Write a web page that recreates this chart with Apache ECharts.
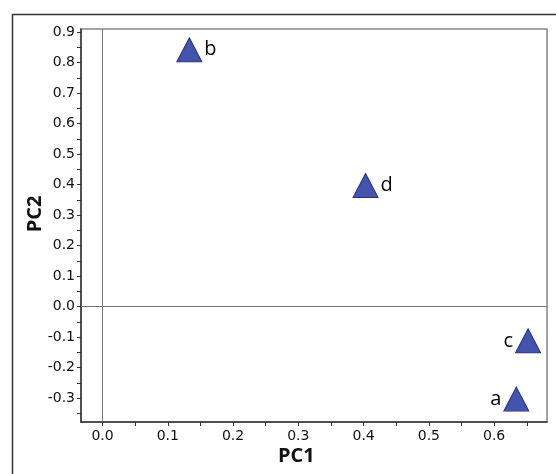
<!DOCTYPE html>
<html>
<head>
<meta charset="utf-8">
<script src="https://cdn.jsdelivr.net/npm/echarts@6/dist/echarts.min.js"></script>
<style>html,body{margin:0;padding:0;background:#fff}#c{width:556px;height:474px}</style>
</head>
<body>
<div id="c"></div>
<script>
// Data
const names = ['b', 'd', 'c', 'a'];
const pc1 = [0.133, 0.403, 0.652, 0.634];
const pc2 = [0.842, 0.397, -0.112, -0.303];
const xTickLabels = [0.0, 0.1, 0.2, 0.3, 0.4, 0.5, 0.6];
const yTickLabels = [-0.3, -0.2, -0.1, 0.0, 0.1, 0.2, 0.3, 0.4, 0.5, 0.6, 0.7, 0.8, 0.9];
const xTicks = [0.0, 0.05, 0.1, 0.15, 0.2, 0.25, 0.3, 0.35, 0.4, 0.45, 0.5, 0.55, 0.6, 0.65];
const yTicks = [-0.35, -0.3, -0.25, -0.2, -0.15, -0.1, -0.05, 0.0, 0.05, 0.1, 0.15, 0.2, 0.25, 0.3, 0.35, 0.4, 0.45, 0.5, 0.55, 0.6, 0.65, 0.7, 0.75, 0.8, 0.85, 0.9];

const labelSide = { a: 'left', b: 'right', c: 'left', d: 'right' };

const chart = echarts.init(document.getElementById('c'), null, { renderer: 'canvas' });
const tickFont = { fontFamily: 'DejaVu Sans', fontSize: 14, color: '#111' };
const fmt = v => (Math.abs(v) < 1e-9 ? 0 : v).toFixed(1);

chart.setOption({
  animation: false,
  backgroundColor: '#fff',
  graphic: [
    { type: 'rect', left: 10, top: 12, shape: { width: 700, height: 600 }, style: { fill: 'none', stroke: '#333', lineWidth: 1.5 }, z: 0 },
    { type: 'text', left: 278, top: 446, style: { text: 'PC1', font: 'bold 20px "Open Sans"', fill: '#111' } },
    { type: 'text', x: 35, y: 214, rotation: Math.PI / 2, style: { text: 'PC2', font: 'bold 20px "Open Sans"', fill: '#111', align: 'center', verticalAlign: 'middle' } }
  ],
  grid: { left: 81, top: 29, right: 9, bottom: 52, show: true, borderColor: '#888', borderWidth: 1.5, backgroundColor: 'transparent' },
  xAxis: {
    type: 'value', min: -0.033, max: 0.681,
    axisLine: { onZero: false, lineStyle: { color: '#333', width: 1.5 } },
    axisTick: { show: true, length: 4, customValues: xTicks, lineStyle: { color: '#333' } },
    axisLabel: Object.assign({ customValues: xTickLabels, margin: 7, formatter: fmt }, tickFont),
    splitLine: { show: false }
  },
  yAxis: {
    type: 'value', min: -0.378, max: 0.91,
    axisLine: { show: true, onZero: false, lineStyle: { color: '#333', width: 1.5 } },
    axisTick: { show: true, length: 4, customValues: yTicks, lineStyle: { color: '#333' } },
    axisLabel: Object.assign({ customValues: yTickLabels, margin: 6, formatter: fmt }, tickFont),
    splitLine: { show: false }
  },
  series: [{
    type: 'scatter',
    symbol: 'triangle',
    symbolSize: [25, 24],
    itemStyle: { color: '#4454ac', borderColor: '#26307a', borderWidth: 1, opacity: 1 },
    label: { show: true, formatter: p => p.data.name, fontFamily: 'Open Sans', fontSize: 20, color: '#000', distance: 2 },
    data: names.map((n, i) => ({ name: n, value: [pc1[i], pc2[i]], label: { position: labelSide[n] } })),
    markLine: {
      silent: true, symbol: 'none', label: { show: false },
      lineStyle: { color: '#777', width: 1, type: 'solid' },
      data: [{ xAxis: 0 }, { yAxis: 0 }]
    }
  }]
});
</script>
</body>
</html>
